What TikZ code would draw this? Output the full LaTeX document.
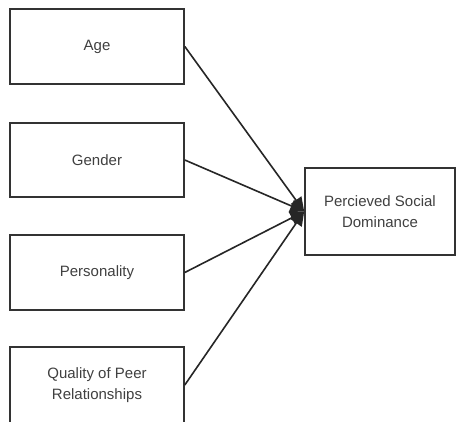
\documentclass[tikz,border=0pt]{standalone}
\usepackage{fontspec}
\setmainfont{Liberation Sans}
\usetikzlibrary{arrows.meta}
\begin{document}
\begin{tikzpicture}[x=1pt,y=-1pt,
  box/.style={draw=black!80, line width=1.6pt, fill=white, inner sep=0pt, align=center,
    text=black!75, font=\fontsize{15}{21.5}\selectfont},
  conn/.style={draw=black!85, line width=1.6pt, -{Triangle[length=14pt,width=13pt]}}]
\fill[white] (0,0) rectangle (456,422);
\useasboundingbox (0,0) rectangle (456,422);
\clip (0,0) rectangle (456,422);
\node[box, minimum width=174pt, minimum height=75pt] (age) at (97,46.5) {Age};
\node[box, minimum width=174pt, minimum height=74pt] (gender) at (97,160) {Gender};
\node[box, minimum width=174pt, minimum height=75pt] (pers) at (97,272.5) {Personality};
\node[box, minimum width=174pt, minimum height=76pt] (qual) at (97,385) {Quality of Peer\\Relationships};
\node[box, minimum width=150pt, minimum height=87pt] (dom) at (380,211.5) {Percieved Social\\Dominance};
\draw[conn] (age.east) -- (dom.west);
\draw[conn] (gender.east) -- (dom.west);
\draw[conn] (pers.east) -- (dom.west);
\draw[conn] (qual.east) -- (dom.west);
\end{tikzpicture}
\end{document}
